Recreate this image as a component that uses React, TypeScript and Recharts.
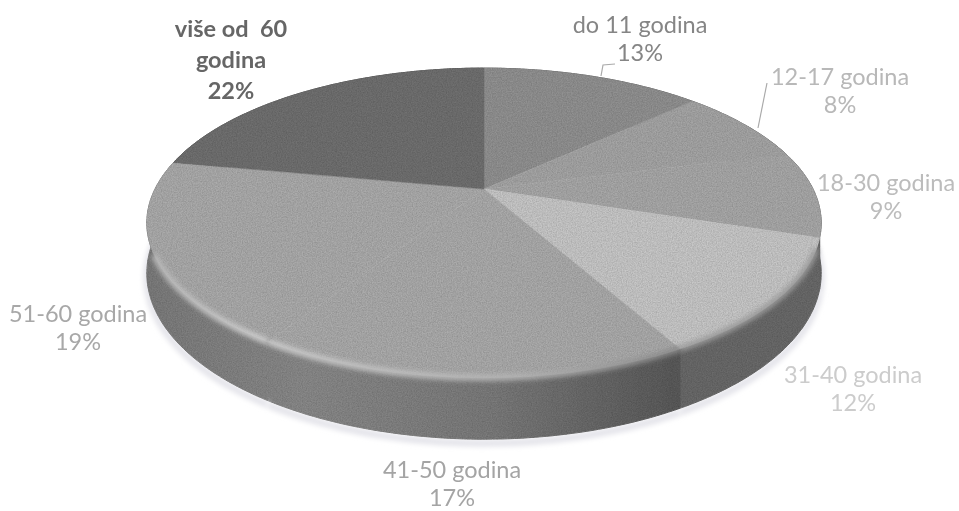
import React from 'react';
import { PieChart, Pie, Cell } from 'recharts';

const CATEGORIES = [
  'do 11 godina',
  '12-17 godina',
  '18-30 godina',
  '31-40 godina',
  '41-50 godina',
  '51-60 godina',
  'više od  60\ngodina',
];
const VALUES = [13, 8, 9, 12, 17, 19, 22];

const TOP_COLORS = ['#929292', '#a6a6a6', '#a9a9a9', '#c8c8c8', '#acacac', '#acacac', '#717171'];
const WALL_COLORS = ['#6a6a6a', '#6a6a6a', '#6a6a6a', '#6b6b6b', 'url(#wallFade)', 'url(#wallFade)', '#555555'];
const RIM_COLORS = ['none', 'none', '#858585', '#9a9a9a', 'url(#rimFade)', 'url(#rimFade)', 'none'];
const LABEL_COLORS = ['#858585', '#b8b8b8', '#bcbcbc', '#cccccc', '#a4a4a4', '#a8a8a8', '#666666'];
// centre x and first baseline of each label
const LABEL_ANCHORS = [
  [640, 33],
  [840, 85],
  [886, 191],
  [853, 383],
  [452, 478],
  [78, 322],
  [231, 37],
];
// leader lines, only the two narrow slices at the top have one
const LEADERS: Record<number, string> = {
  0: 'M601 76 L603 65 L615 64',
  1: 'M758 128 L767 83',
};

const data = CATEGORIES.map((name, i) => ({ name, value: VALUES[i] }));

// the picture is a tilted 3D pie, so every point on the circle goes through a perspective projection
const TILT = 0.448;
const PERSPECTIVE = 0.219;
const DEPTH = 48;
// part of the front edge that carries the soft rim, in pie angles
const RIM_FROM = -22;
const RIM_TO = -156;

const project = (cx: number, cy: number, r: number, angle: number, drop = 0) => {
  const t = ((90 - angle) * Math.PI) / 180;
  const x = Math.sin(t);
  const z = Math.cos(t);
  const w = 1 + PERSPECTIVE * z;
  return [cx + (r * x) / w, cy - (r * TILT * z) / w + drop / w];
};

const arcPoints = (p: any, drop = 0) => {
  const pts: number[][] = [];
  const n = Math.max(2, Math.ceil(Math.abs(p.endAngle - p.startAngle)));
  for (let i = 0; i <= n; i++) {
    const a = p.startAngle + ((p.endAngle - p.startAngle) * i) / n;
    pts.push(project(p.cx, p.cy, p.outerRadius, a, drop));
  }
  return pts;
};

const toPath = (pts: number[][]) =>
  pts.map((q, i) => `${i === 0 ? 'M' : 'L'}${q[0].toFixed(1)} ${q[1].toFixed(1)}`).join(' ');

const TopSlice = (props: any) => {
  const arc = arcPoints(props);
  const d = `M${props.cx} ${props.cy} ${toPath(arc).replace('M', 'L')} Z`;
  const rim = RIM_COLORS[props.index];
  const rimStart = Math.min(props.startAngle, RIM_FROM);
  const rimEnd = Math.max(props.endAngle, RIM_TO);
  const hasRim = rim !== 'none' && rimStart > rimEnd;
  return (
    <g>
      <path d={d} fill={props.fill} stroke={props.fill} strokeWidth={0.5} filter="url(#grain)" />
      {hasRim && (
        <path
          d={toPath(arcPoints({ ...props, startAngle: rimStart, endAngle: rimEnd }))}
          fill="none"
          stroke={rim}
          strokeWidth={6}
          filter="url(#soft)"
        />
      )}
    </g>
  );
};

const WallSlice = (props: any) => {
  const upper = arcPoints(props);
  const lower = arcPoints(props, DEPTH);
  const d = `${toPath(upper)} ${toPath([...lower].reverse()).replace('M', 'L')} Z`;
  return (
    <g>
      <path
        d={toPath(lower)}
        fill="none"
        stroke="#e4e4ea"
        strokeWidth={7}
        transform="translate(0 4)"
        filter="url(#soft)"
      />
      <path d={d} fill={props.fill} stroke={props.fill} strokeWidth={1} filter="url(#grain)" />
    </g>
  );
};

const renderLabel = (props: any) => {
  const i = props.index;
  const [x, y] = LABEL_ANCHORS[i];
  const lines = [...CATEGORIES[i].split('\n'), `${VALUES[i]}%`];
  const lineHeight = i === 6 ? 31 : 28;
  return (
    <text
      key={i}
      x={x}
      y={y}
      textAnchor="middle"
      fill={LABEL_COLORS[i]}
      fontFamily="Lato, 'Open Sans', sans-serif"
      fontSize={23.5}
      fontWeight={i === 6 ? 700 : 400}
      style={{ whiteSpace: 'pre' }}
      filter="url(#textBlur)"
    >
      {lines.map((line, k) => (
        <tspan key={k} x={x} dy={k === 0 ? 0 : lineHeight}>
          {line}
        </tspan>
      ))}
    </text>
  );
};

const renderLeader = (props: any) => {
  const d = LEADERS[props.index];
  if (!d) return <g key={props.index} />;
  return <path key={props.index} d={d} fill="none" stroke="#aaaaaa" strokeWidth={1.2} />;
};

export default function App() {
  return (
    <div style={{ position: 'absolute', left: 0, top: 0, width: 959, height: 511, background: '#ffffff' }}>
      <PieChart width={959} height={511} margin={{ top: 0, right: 0, bottom: 0, left: 0 }}>
        <defs>
          <linearGradient id="wallFade" gradientUnits="userSpaceOnUse" x1="150" y1="0" x2="670" y2="0">
            <stop offset="0" stopColor="#7d7d7d" />
            <stop offset="0.3" stopColor="#8a8a8a" />
            <stop offset="0.65" stopColor="#7c7c7c" />
            <stop offset="1" stopColor="#5c5c5c" />
          </linearGradient>
          <linearGradient id="rimFade" gradientUnits="userSpaceOnUse" x1="150" y1="0" x2="670" y2="0">
            <stop offset="0" stopColor="#b8b8b8" />
            <stop offset="0.2" stopColor="#cdcdcd" />
            <stop offset="0.7" stopColor="#b4b4b4" />
            <stop offset="1" stopColor="#8a8a8a" />
          </linearGradient>
          <filter id="soft" filterUnits="userSpaceOnUse" x="0" y="0" width="959" height="511">
            <feGaussianBlur stdDeviation="2.5" />
          </filter>
          <filter id="textBlur" x="-5%" y="-5%" width="110%" height="110%">
            <feGaussianBlur stdDeviation="0.45" />
          </filter>
          <filter id="grain" filterUnits="userSpaceOnUse" x="0" y="0" width="959" height="511">
            <feTurbulence type="fractalNoise" baseFrequency="0.8" numOctaves="2" seed="4" result="noise" />
            <feColorMatrix
              in="noise"
              type="matrix"
              values="0 0 0 0 0  0 0 0 0 0  0 0 0 0 0  0.5 0 0 0 -0.12"
              result="speck"
            />
            <feComposite in="speck" in2="SourceGraphic" operator="in" result="clipped" />
            <feMerge>
              <feMergeNode in="SourceGraphic" />
              <feMergeNode in="clipped" />
            </feMerge>
          </filter>
        </defs>
        <Pie
          data={data}
          dataKey="value"
          cx={484}
          cy={189}
          outerRadius={329}
          startAngle={90}
          endAngle={-270}
          shape={WallSlice}
          label={false}
          labelLine={false}
          isAnimationActive={false}
        >
          {data.map((_, i) => (
            <Cell key={i} fill={WALL_COLORS[i]} />
          ))}
        </Pie>
        <Pie
          data={data}
          dataKey="value"
          cx={484}
          cy={189}
          outerRadius={329}
          startAngle={90}
          endAngle={-270}
          shape={TopSlice}
          label={renderLabel}
          labelLine={renderLeader}
          isAnimationActive={false}
        >
          {data.map((_, i) => (
            <Cell key={i} fill={TOP_COLORS[i]} />
          ))}
        </Pie>
      </PieChart>
    </div>
  );
}
